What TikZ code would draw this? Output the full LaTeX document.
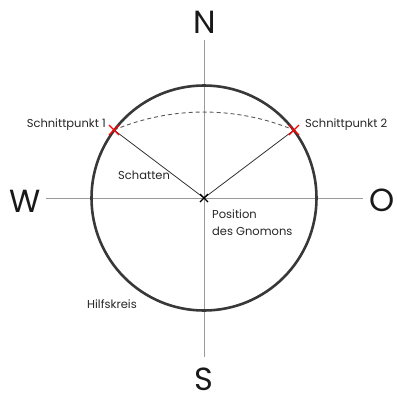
\documentclass[tikz,border=0pt]{standalone}
\usepackage{fontspec}
\setmainfont{Poppins}
\usetikzlibrary{calc}
\begin{document}
\begin{tikzpicture}[x=1pt,y=-1pt,
  axis/.style={draw=black!40,line width=0.8pt},
  ring/.style={draw=black!78,line width=2.6pt},
  shadow/.style={draw=black!80,line width=0.8pt},
  arcd/.style={draw=black!65,line width=0.9pt,dash pattern=on 4pt off 3pt},
  lbl/.style={inner sep=0pt,font=\fontsize{11.5}{17}\selectfont,text=black!85},
  dir/.style={inner sep=0pt,font=\fontsize{32}{32}\selectfont,text=black!90,anchor=base,text depth=0pt},
  xmark/.style={line width=1.1pt}]
\useasboundingbox (0,0) rectangle (397,400);
\coordinate (C) at (204,198);
\coordinate (P1) at (114,130);
\coordinate (P2) at (294,130);
\coordinate (Nt) at (204,40);
\coordinate (Sb) at (204,357);
\coordinate (Wl) at (46,198);
\coordinate (Or) at (363,198);
% axes
\draw[axis] (Nt) -- (Sb);
\draw[axis] (Wl) -- (Or);
% circle
\draw[ring] (C) circle[radius=112.5];
% dashed arc
\draw[arcd] (P1) arc[start angle=-112.6,end angle=-67.4,radius=234];
% shadows
\draw[shadow] (C) -- (P1);
\draw[shadow] (C) -- (P2);
% marks
\draw[xmark,black] ($(C)+(-4,-4)$) -- ($(C)+(4,4)$) ($(C)+(-4,4)$) -- ($(C)+(4,-4)$);
\draw[xmark,red] ($(P1)+(-5,-5)$) -- ($(P1)+(5,5)$) ($(P1)+(-5,5)$) -- ($(P1)+(5,-5)$);
\draw[xmark,red] ($(P2)+(-5,-5)$) -- ($(P2)+(5,5)$) ($(P2)+(-5,5)$) -- ($(P2)+(5,-5)$);
% labels
\node[dir] (N) at (205,33) {N};
\node[dir] (S) at (204,390) {S};
\node[dir] (W) at (25,212) {W};
\node[dir] (O) at (382,211) {O};
\node[lbl,anchor=base east] (l1) at (106,127) {Schnittpunkt 1};
\node[lbl,anchor=base west] (l2) at (305,127) {Schnittpunkt 2};
\node[lbl,anchor=base west] (sch) at (118,179) {Schatten};
\node[lbl,anchor=base west] (pos) at (212,218) {Position};
\node[lbl,anchor=base west] (pos2) at (212,235) {des Gnomons};
\node[lbl,anchor=base west] (hk) at (87,308) {Hilfskreis};
\end{tikzpicture}
\end{document}
